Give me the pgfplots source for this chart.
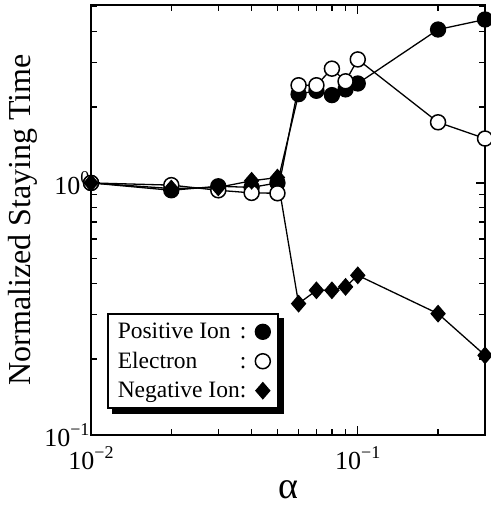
\documentclass[border=0pt]{standalone}
\usepackage{fontspec}
\setmainfont{Liberation Serif}
\usepackage{pgfplots}
\pgfplotsset{compat=1.18}

\newcommand\tsup[1]{\raisebox{0.42em}{\fontsize{18}{18}\selectfont #1}}
\newcommand\lent[1]{\rlap{#1}\phantom{Negative Ion}:}

\begin{document}
\begin{tikzpicture}
\begin{axis}[
  scale only axis,
  width=394pt, height=430pt,
  xmode=log, ymode=log,
  xmin=0.01, xmax=0.3,
  ymin=0.1, ymax=5.08,
  xtick={0.01,0.1},
  xticklabels={10\tsup{−2},10\tsup{−1}},
  minor xtick={0.02,0.03,0.04,0.05,0.06,0.07,0.08,0.09,0.2,0.3},
  ytick={0.1,1},
  yticklabels={10\tsup{−1},10\tsup{0}},
  minor ytick={0.2,0.3,0.4,0.5,0.6,0.7,0.8,0.9,2,3,4,5},
  tick align=inside,
  major tick length=9pt,
  minor tick length=6pt,
  every tick/.style={black, line width=1.3pt},
  axis line style={line width=2.2pt},
  ticklabel style={font=\fontsize{26}{26}\selectfont},
  xticklabel style={yshift=-8pt},
  yticklabel style={xshift=2pt},
  xlabel={α},
  xlabel style={font=\fontsize{38}{38}\selectfont, yshift=-4pt},
  ylabel={Normalized Staying Time},
  ylabel style={font=\fontsize{32}{32}\selectfont},
  legend plot pos=right,
  legend cell align=left,
  legend image code/.code={\draw[#1, only marks] plot coordinates {(0pt,0pt)};},
  legend style={
    name=leg,
    at={(0.04,0.06)}, anchor=south west,
    font=\fontsize{23.5}{23.5}\selectfont,
    draw=black, line width=2pt, fill=white,
    inner xsep=8pt, inner ysep=7pt,
    row sep=8pt,
    /tikz/every odd column/.append style={column sep=7pt},
  },
  every axis plot/.append style={black, line width=1.3pt},
]

\addplot[mark=*, mark size=7.5pt, mark options={fill=black}]
coordinates {
  (0.01,1.0) (0.02,0.935) (0.03,0.97) (0.04,0.96) (0.05,1.0)
  (0.06,2.25) (0.07,2.32) (0.08,2.23) (0.09,2.35) (0.1,2.48)
  (0.2,4.06) (0.3,4.45)
};

\addplot[mark=*, mark size=7.5pt, mark options={fill=white, line width=1.5pt}]
coordinates {
  (0.01,1.0) (0.02,0.98) (0.03,0.935) (0.04,0.913) (0.05,0.91)
  (0.06,2.44) (0.07,2.44) (0.08,2.84) (0.09,2.53) (0.1,3.09)
  (0.2,1.74) (0.3,1.50)
};

\addplot[mark=diamond*, mark size=8pt, mark options={fill=black, xscale=1.15}]
coordinates {
  (0.01,1.0) (0.02,0.95) (0.03,0.96) (0.04,1.02) (0.05,1.05)
  (0.06,0.332) (0.07,0.375) (0.08,0.375) (0.09,0.387) (0.1,0.43)
  (0.2,0.303) (0.3,0.207)
};

\legend{\lent{Positive Ion}, \lent{Electron}, \lent{Negative Ion}}

\coordinate (bbsw) at (rel axis cs:-0.231,-0.1744);
\coordinate (bbne) at (rel axis cs:1.0127,1.0116);
\end{axis}
% shadow of the legend box
\fill ([xshift=5pt]leg.south west) rectangle ([xshift=5pt,yshift=-5pt]leg.south east);
\fill ([yshift=-5pt]leg.north east) rectangle ([xshift=5pt,yshift=-5pt]leg.south east);
\pgfresetboundingbox
\useasboundingbox (bbsw) rectangle (bbne);
\end{tikzpicture}
\end{document}
